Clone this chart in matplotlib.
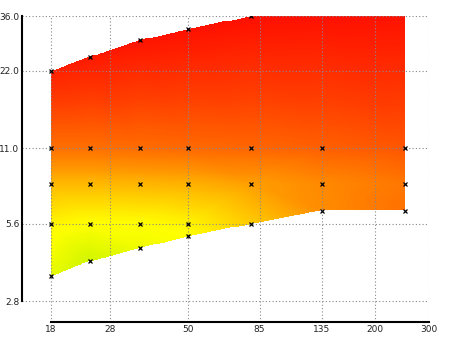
import numpy as np
import matplotlib
matplotlib.use("Agg")
import matplotlib.pyplot as plt
import matplotlib.tri as mtri
from matplotlib.colors import LinearSegmentedColormap
from matplotlib.path import Path

# Data: sample points (x, y) and the colour value at each one
col_x = [18, 24, 35, 50, 80, 135, 250]
col_y = [
    [3.5, 5.6, 8, 11, 22],
    [4.0, 5.6, 8, 11, 25],
    [4.5, 5.6, 8, 11, 29],
    [5.0, 5.6, 8, 11, 32],
    [5.6, 8, 11, 36],
    [6.3, 8, 11, 40],
    [6.3, 8, 11, 44],
]
col_z = [
    [0.13, 0.23, 0.39, 0.60, 0.87],
    [0.07, 0.20, 0.39, 0.60, 0.90],
    [0.16, 0.20, 0.40, 0.61, 0.92],
    [0.20, 0.23, 0.41, 0.62, 0.93],
    [0.34, 0.46, 0.63, 0.94],
    [0.51, 0.52, 0.65, 0.96],
    [0.60, 0.58, 0.68, 0.97],
]

x_ticks = [18, 28, 50, 85, 135, 200, 300]
y_ticks = [2.8, 5.6, 11.0, 22.0, 36.0]

xs = np.array([x for x, ys in zip(col_x, col_y) for _ in ys], dtype=float)
ys = np.array([y for ycol in col_y for y in ycol], dtype=float)
zs = np.array([z for zcol in col_z for z in zcol], dtype=float)

cmap = LinearSegmentedColormap.from_list(
    "gyr", [(0.0, "#b8f000"), (0.2, "#ffff00"), (0.5, "#ff9000"),
            (0.75, "#ff4000"), (1.0, "#ff0000")])

# interpolate the colour value on a fine grid in log space
lx, ly = np.log(xs), np.log(ys)
tri = mtri.Triangulation(lx, ly)
interp = mtri.LinearTriInterpolator(tri, zs)
gx = np.linspace(lx.min(), lx.max(), 400)
gy = np.linspace(ly.min(), ly.max(), 300)
GX, GY = np.meshgrid(gx, gy)
GZ = interp(GX, GY)

upper = [(np.log(x), np.log(ycol[-1])) for x, ycol in zip(col_x, col_y)]
lower = [(np.log(x), np.log(ycol[0])) for x, ycol in zip(col_x, col_y)]
region = Path(lower + upper[::-1] + [lower[0]])
inside = region.contains_points(np.column_stack([GX.ravel(), GY.ravel()]),
                                radius=1e-9).reshape(GX.shape)
GZ = np.ma.masked_where(~inside | np.ma.getmaskarray(GZ), GZ)

fig = plt.figure(figsize=(4.5, 3.37), dpi=100)
ax = fig.add_axes([22 / 450, 15 / 337, 407 / 450, 306 / 337])
ax.set_xscale("log")
ax.set_yscale("log")

ax.pcolormesh(np.exp(GX), np.exp(GY), GZ, cmap=cmap, vmin=0, vmax=1,
              shading="nearest", zorder=1, rasterized=True)
ax.plot(xs, ys, linestyle="none", marker="x", color="black",
        markersize=3, markeredgewidth=0.9, zorder=3)

ax.set_xlim(14.5, 300)
ax.set_ylim(2.32, 36)
ax.set_xticks(x_ticks)
ax.set_xticklabels([str(t) for t in x_ticks])
ax.set_yticks(y_ticks)
ax.set_yticklabels([f"{t:.1f}" for t in y_ticks])
ax.minorticks_off()
ax.tick_params(length=0, labelsize=6.5, labelcolor="#222222", pad=2)

ax.grid(True, color="#888888", linestyle=(0, (1, 2)), linewidth=0.8, zorder=2)

for side in ("top", "right"):
    ax.spines[side].set_visible(False)
ax.spines["left"].set_bounds(2.8, 36)
ax.spines["bottom"].set_bounds(18, 300)
ax.spines["left"].set_linewidth(1.5)
ax.spines["bottom"].set_linewidth(1.5)

fig.savefig("out.png", dpi=100)
